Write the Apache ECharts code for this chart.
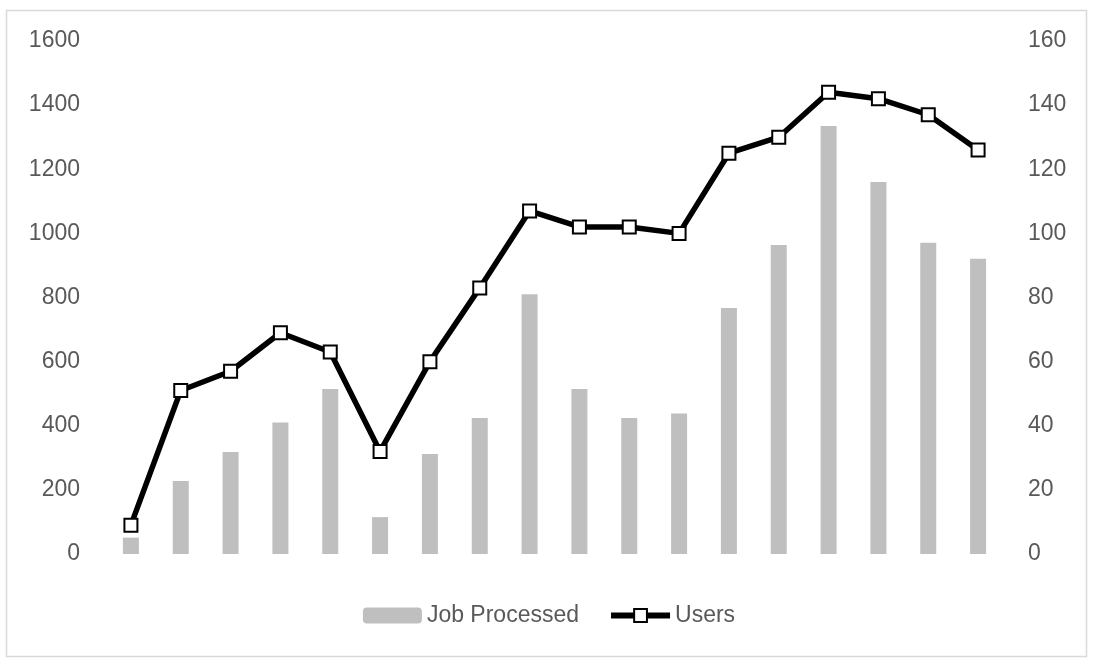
<!DOCTYPE html>
<html>
<head>
<meta charset="utf-8">
<script src="https://cdn.jsdelivr.net/npm/echarts@6/dist/echarts.min.js"></script>
<style>
html,body{margin:0;padding:0;background:#fff;}
#chart{width:1098px;height:664px;}
</style>
</head>
<body>
<div id="chart"></div>
<script>
var categories = ['1','2','3','4','5','6','7','8','9','10','11','12','13','14','15','16','17','18'];
var jobsProcessed = [51, 228, 318, 410, 515, 115, 312, 424, 810, 515, 424, 438, 767, 964, 1335, 1160, 971, 921];
var users = [9, 51, 57, 69, 63, 32, 60, 83, 107, 102, 102, 100, 125, 130, 144, 142, 137, 126];
var leftTicks = [0, 200, 400, 600, 800, 1000, 1200, 1400, 1600];
var rightTicks = [0, 20, 40, 60, 80, 100, 120, 140, 160];

var chart = echarts.init(document.getElementById('chart'));
var font = 'Liberation Sans';
var txt = '#595959';
chart.setOption({
  backgroundColor: '#ffffff',
  animation: false,
  graphic: [{
    type: 'rect',
    shape: {x: 6.5, y: 10.5, width: 1080, height: 646},
    style: {fill: 'none', stroke: '#D9D9D9', lineWidth: 1.5},
    silent: true, z: -1
  }],
  grid: {left: 106, right: 95, top: 41, bottom: 110, containLabel: false},
  legend: {
    left: 'center',
    top: 599,
    itemWidth: 59,
    itemHeight: 16,
    itemGap: 29,
    textStyle: {fontFamily: font, fontSize: 23, color: txt},
    data: [
      {name: 'Job Processed'},
      {name: 'Users', lineStyle: {width: 6, color: '#000'}, itemStyle: {color: '#fff', borderColor: '#000', borderWidth: 2}}
    ]
  },
  xAxis: {
    type: 'category',
    data: categories,
    axisLine: {show: false},
    axisTick: {show: false},
    axisLabel: {show: false},
    splitLine: {show: false}
  },
  yAxis: [{
    type: 'value',
    min: leftTicks[0], max: leftTicks[leftTicks.length - 1], interval: 200,
    axisLine: {show: false}, axisTick: {show: false}, splitLine: {show: false},
    axisLabel: {margin: 26, fontFamily: font, fontSize: 23, color: txt, formatter: function (v) { return String(v); }}
  }, {
    type: 'value',
    min: rightTicks[0], max: rightTicks[rightTicks.length - 1], interval: 20,
    axisLine: {show: false}, axisTick: {show: false}, splitLine: {show: false},
    axisLabel: {margin: 25, fontFamily: font, fontSize: 23, color: txt, formatter: function (v) { return String(v); }}
  }],
  series: [{
    name: 'Job Processed',
    type: 'bar',
    yAxisIndex: 0,
    data: jobsProcessed,
    barWidth: 16,
    itemStyle: {color: '#BFBFBF'}
  }, {
    name: 'Users',
    type: 'line',
    yAxisIndex: 1,
    data: users,
    symbol: 'rect',
    symbolSize: 13,
    lineStyle: {color: '#000000', width: 5.5},
    itemStyle: {color: '#ffffff', borderColor: '#000000', borderWidth: 2},
    z: 3
  }]
});
</script>
</body>
</html>
